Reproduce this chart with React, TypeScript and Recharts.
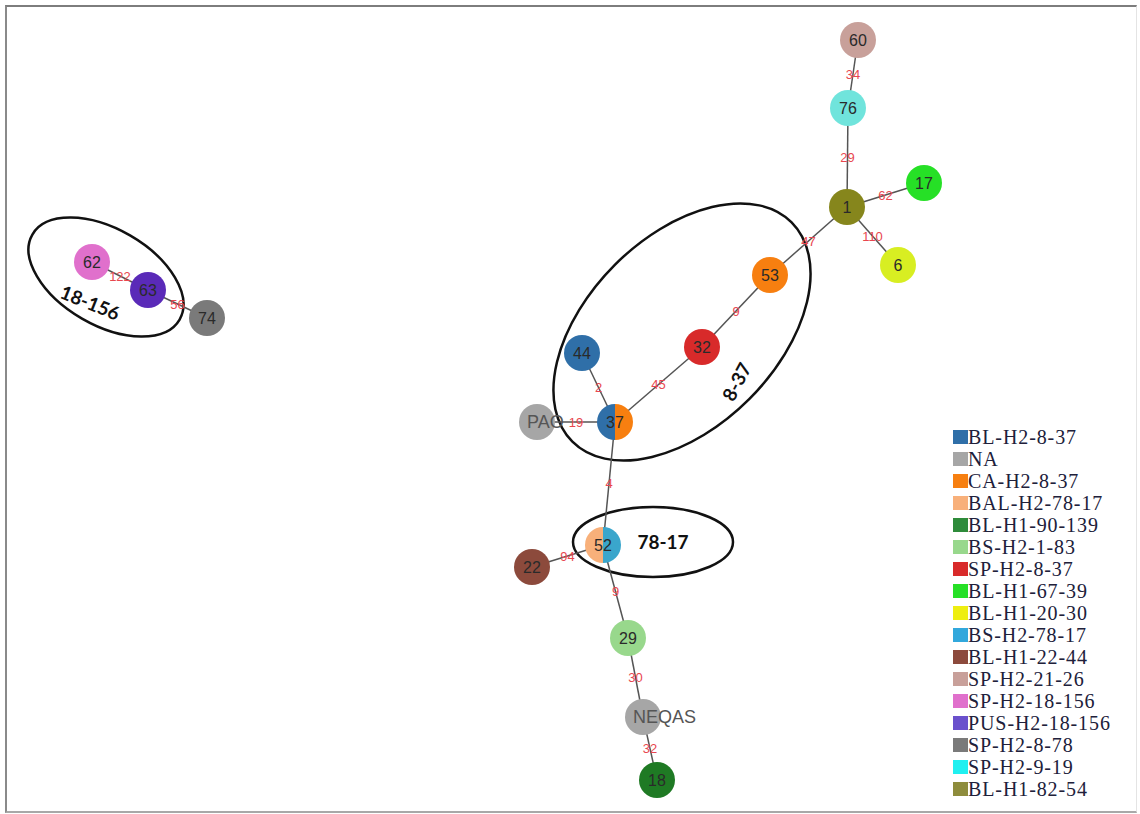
import React from 'react';
import { ScatterChart, Scatter, XAxis, YAxis, Legend } from 'recharts';

// legend categories (isolate groups)
const categories = [
  'BL-H2-8-37', 'NA', 'CA-H2-8-37', 'BAL-H2-78-17', 'BL-H1-90-139', 'BS-H2-1-83',
  'SP-H2-8-37', 'BL-H1-67-39', 'BL-H1-20-30', 'BS-H2-78-17', 'BL-H1-22-44',
  'SP-H2-21-26', 'SP-H2-18-156', 'PUS-H2-18-156', 'SP-H2-8-78', 'SP-H2-9-19', 'BL-H1-82-54',
];

// nodes of the spanning tree (layout position)
const nodeIds = ['60', '76', '1', '17', '6', '53', '32', '44', '37', 'PAO', '52', '22', '29', 'NEQAS', '18', '62', '63', '74'];
const nodeX = [858, 848, 847, 924, 898, 770, 702, 582, 615, 537, 603, 532, 628, 643, 657, 92, 148, 207];
const nodeY = [40, 108, 207, 183, 265, 275, 347, 353, 422, 422, 545, 567, 638, 717, 780, 262, 290, 318];
const nodeTypes = [
  ['SP-H2-21-26'], ['SP-H2-9-19'], ['BL-H1-82-54'], ['BL-H1-67-39'], ['BL-H1-20-30'], ['CA-H2-8-37'],
  ['SP-H2-8-37'], ['BL-H2-8-37'], ['BL-H2-8-37', 'CA-H2-8-37'], ['NA'], ['BAL-H2-78-17', 'BS-H2-78-17'],
  ['BL-H1-22-44'], ['BS-H2-1-83'], ['NA'], ['BL-H1-90-139'], ['SP-H2-18-156'], ['PUS-H2-18-156'], ['SP-H2-8-78'],
];

// edges + allele distances
const edgeSource = ['60', '76', '1', '1', '1', '53', '32', '44', 'PAO', '37', '52', '52', '29', 'NEQAS', '62', '63'];
const edgeTarget = ['76', '1', '17', '6', '53', '32', '37', '37', '37', '52', '22', '29', 'NEQAS', '18', '63', '74'];
const edgeWeight = [34, 29, 62, 110, 47, 9, 45, 2, 19, 4, 94, 9, 30, 32, 122, 56];

// circled clusters
const clusterNames = ['18-156', '8-37', '78-17'];
const clusterX = [106, 682, 653];
const clusterY = [277, 332, 542];
const clusterTextX = [90, 737, 663];
const clusterTextY = [303, 382, 542];

const legendColors: Record<string, string> = {
  'BL-H2-8-37': '#2f6fa8',
  'NA': '#a6a6a6',
  'CA-H2-8-37': '#f77f10',
  'BAL-H2-78-17': '#f8b07a',
  'BL-H1-90-139': '#2e8b3a',
  'BS-H2-1-83': '#98d88c',
  'SP-H2-8-37': '#d82a2a',
  'BL-H1-67-39': '#26e026',
  'BL-H1-20-30': '#eeee10',
  'BS-H2-78-17': '#32a8dc',
  'BL-H1-22-44': '#8c4a3c',
  'SP-H2-21-26': '#c8a09a',
  'SP-H2-18-156': '#e070cc',
  'PUS-H2-18-156': '#6a50cc',
  'SP-H2-8-78': '#7a7a7a',
  'SP-H2-9-19': '#20f0f0',
  'BL-H1-82-54': '#8e8c3c',
};

// nodes are drawn a little softer than the legend swatches
const nodeColors: Record<string, string> = {
  ...legendColors,
  'BL-H1-90-139': '#1f7a24',
  'BL-H1-20-30': '#d8ee22',
  'SP-H2-9-19': '#70e4dc',
  'PUS-H2-18-156': '#5a2ab8',
  'BL-H1-82-54': '#86861c',
  'BS-H2-78-17': '#3aa6cc',
};

const ellipseStyle: Record<string, { rx: number; ry: number; angle: number; textAngle: number }> = {
  '18-156': { rx: 85, ry: 48, angle: 30, textAngle: 22 },
  '8-37': { rx: 155, ry: 95, angle: -45, textAngle: -62 },
  '78-17': { rx: 80, ry: 35, angle: 0, textAngle: 0 },
};

const W = 1140;
const H = 814;
const R = 18;

const nodes = nodeIds.map((id, i) => ({ id, x: nodeX[i], y: nodeY[i], types: nodeTypes[i] }));
const pos = (id: string) => nodes.find((n) => n.id === id)!;

const edges = edgeSource.map((s, i) => {
  const a = pos(s);
  const b = pos(edgeTarget[i]);
  return { pts: [{ x: a.x, y: a.y }, { x: b.x, y: b.y }], mid: { x: (a.x + b.x) / 2, y: (a.y + b.y) / 2, w: edgeWeight[i] } };
});

const clusters = clusterNames.map((name, i) => ({ name, x: clusterX[i], y: clusterY[i] }));
const clusterTexts = clusterNames.map((name, i) => ({ name, x: clusterTextX[i], y: clusterTextY[i] }));

const Empty = () => <g />;

const NodeShape = (props: any) => {
  const { cx, cy, payload } = props;
  const fills = payload.types.map((t: string) => nodeColors[t]);
  const longLabel = payload.id.length > 2;
  return (
    <g>
      {fills.length === 1 ? (
        <circle cx={cx} cy={cy} r={R} fill={fills[0]} />
      ) : (
        <g>
          <path d={`M${cx},${cy - R} A${R},${R} 0 0 0 ${cx},${cy + R} Z`} fill={fills[0]} />
          <path d={`M${cx},${cy - R} A${R},${R} 0 0 1 ${cx},${cy + R} Z`} fill={fills[1]} />
        </g>
      )}
      <text
        x={longLabel ? cx - 10 : cx}
        y={cy}
        dy="0.36em"
        textAnchor={longLabel ? 'start' : 'middle'}
        fontFamily="'Liberation Sans', Arial, sans-serif"
        fontSize={longLabel ? 18 : 16}
        fill={longLabel ? '#555' : '#2a2a2a'}
      >
        {payload.id}
      </text>
    </g>
  );
};

const WeightShape = (props: any) => {
  const { cx, cy, payload } = props;
  return (
    <text x={cx} y={cy} dy="0.35em" textAnchor="middle" fontFamily="'Liberation Sans', Arial, sans-serif" fontSize={13} fill="#e8474f">
      {payload.w}
    </text>
  );
};

const EllipseShape = (props: any) => {
  const { cx, cy, payload } = props;
  const st = ellipseStyle[payload.name];
  return (
    <ellipse cx={cx} cy={cy} rx={st.rx} ry={st.ry} transform={`rotate(${st.angle} ${cx} ${cy})`} fill="none" stroke="#111" strokeWidth={2.5} />
  );
};

const ClusterText = (props: any) => {
  const { cx, cy, payload } = props;
  const st = ellipseStyle[payload.name];
  return (
    <text
      x={cx}
      y={cy}
      dy="0.35em"
      textAnchor="middle"
      transform={`rotate(${st.textAngle} ${cx} ${cy})`}
      fontFamily="Lato, 'Open Sans', sans-serif"
      fontWeight={700}
      fontSize={19}
      fill="#111"
    >
      {payload.name}
    </text>
  );
};

const LegendBox = () => (
  <div>
    {categories.map((c) => (
      <div key={c} style={{ display: 'flex', alignItems: 'center', height: 22 }}>
        <span style={{ width: 15, height: 14, background: legendColors[c], display: 'inline-block' }} />
        <span style={{ fontFamily: "'Liberation Serif', 'Times New Roman', serif", fontSize: 20, letterSpacing: 0.9, color: '#20203a', lineHeight: '22px' }}>
          {c}
        </span>
      </div>
    ))}
  </div>
);

const App = () => {
  return (
    <div style={{ position: 'absolute', left: 0, top: 0, width: W, height: H, background: '#fff' }}>
      <div
        style={{
          position: 'absolute',
          left: 5,
          top: 5,
          width: 1129,
          height: 804,
          borderTop: '2px solid #7d7d7d',
          borderLeft: '2px solid #8a8a8a',
          borderBottom: '2px solid #a8a8a8',
          borderRight: '1px solid #e4e4e4',
        }}
      />
      <ScatterChart width={W} height={H} margin={{ top: 0, right: 0, bottom: 0, left: 0 }}>
        <XAxis type="number" dataKey="x" domain={[0, W]} hide />
        <YAxis type="number" dataKey="y" domain={[0, H]} reversed hide />
        <Scatter data={clusters} shape={EllipseShape} isAnimationActive={false} legendType="none" />
        {edges.map((e, i) => (
          <Scatter
            key={`edge-${i}`}
            data={e.pts}
            line={{ stroke: '#555', strokeWidth: 1.5 }}
            shape={Empty}
            isAnimationActive={false}
            legendType="none"
          />
        ))}
        <Scatter data={nodes} shape={NodeShape} isAnimationActive={false} legendType="none" />
        <Scatter data={edges.map((e) => e.mid)} shape={WeightShape} isAnimationActive={false} legendType="none" />
        <Scatter data={clusterTexts} shape={ClusterText} isAnimationActive={false} legendType="none" />
        <Legend
          layout="vertical"
          align="center"
          verticalAlign="middle"
          wrapperStyle={{ left: 953, top: 426, width: 185 }}
          content={() => <LegendBox />}
        />
      </ScatterChart>
    </div>
  );
};

export default App;
